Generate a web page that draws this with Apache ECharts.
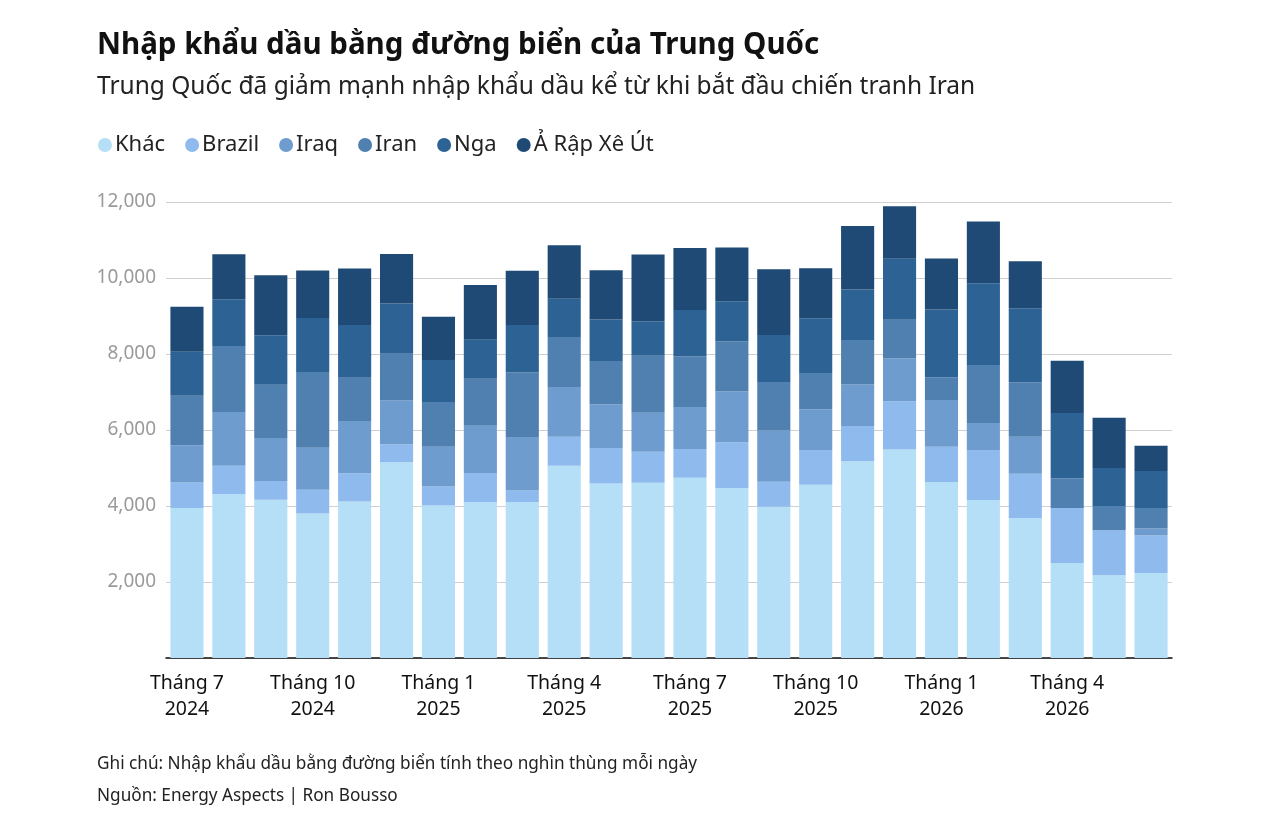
<!DOCTYPE html>
<html>
<head>
<meta charset="utf-8">
<script src="https://cdn.jsdelivr.net/npm/echarts@6/dist/echarts.min.js"></script>
<style>
  html, body { margin: 0; padding: 0; background: #fff; }
  #main { width: 1262px; height: 832px; }
</style>
</head>
<body>
<div id="main"></div>
<script>
// thang / nam
var months = ['Tháng 7\n2024', 'Tháng 8\n2024', 'Tháng 9\n2024', 'Tháng 10\n2024', 'Tháng 11\n2024', 'Tháng 12\n2024',
  'Tháng 1\n2025', 'Tháng 2\n2025', 'Tháng 3\n2025', 'Tháng 4\n2025', 'Tháng 5\n2025', 'Tháng 6\n2025',
  'Tháng 7\n2025', 'Tháng 8\n2025', 'Tháng 9\n2025', 'Tháng 10\n2025', 'Tháng 11\n2025', 'Tháng 12\n2025',
  'Tháng 1\n2026', 'Tháng 2\n2026', 'Tháng 3\n2026', 'Tháng 4\n2026', 'Tháng 5\n2026', 'Tháng 6\n2026'];

// nghin thung moi ngay
var khac   = [3950, 4316, 4166, 3800, 4120, 5150, 4010, 4105, 4105, 5060, 4595, 4615, 4745, 4475, 3980, 4560, 5175, 5490, 4630, 4160, 3685, 2500, 2175, 2235];
var brazil = [670, 745, 492, 630, 740, 475, 500, 765, 300, 765, 930, 815, 755, 1200, 660, 915, 930, 1265, 930, 1315, 1165, 1450, 1185, 990];
var iraq   = [980, 1413, 1131, 1105, 1375, 1150, 1050, 1245, 1410, 1305, 1150, 1025, 1105, 1340, 1350, 1070, 1090, 1125, 1230, 710, 975, 0, 0, 185];
var iran   = [1300, 1736, 1404, 1990, 1140, 1230, 1175, 1235, 1700, 1315, 1140, 1500, 1335, 1315, 1270, 955, 1175, 1020, 600, 1525, 1430, 780, 640, 535];
var nga    = [1160, 1229, 1298, 1420, 1385, 1325, 1105, 1025, 1245, 1010, 1090, 910, 1220, 1055, 1240, 1440, 1325, 1605, 1780, 2155, 1950, 1720, 1000, 975];
var saudi  = [1185, 1184, 1579, 1255, 1490, 1300, 1140, 1440, 1430, 1405, 1300, 1755, 1630, 1420, 1730, 1315, 1675, 1385, 1340, 1625, 1235, 1370, 1324, 665];

var yTicks = [0, 2000, 4000, 6000, 8000, 10000, 12000];

var seriesNames = ['Khác', 'Brazil', 'Iraq', 'Iran', 'Nga', 'Ả Rập Xê Út'];
var seriesData = [khac, brazil, iraq, iran, nga, saudi];
var colors = ['#b4dff7', '#8fbaee', '#6e9ccf', '#5080b0', '#2d6294', '#1f4a75'];

var myChart = echarts.init(document.getElementById('main'));

var series = [];
for (var i = 0; i < seriesNames.length; i++) {
  series.push({
    name: seriesNames[i],
    type: 'bar',
    stack: 'total',
    barCategoryGap: '21%',
    data: seriesData[i],
    itemStyle: { color: colors[i] }
  });
}

option = {
  color: colors,
  textStyle: { fontFamily: 'Noto Sans' },
  title: [{
    text: 'Nhập khẩu dầu bằng đường biển của Trung Quốc',
    left: 97,
    top: 31,
    padding: 0,
    textStyle: { fontSize: 29.5, fontWeight: 'bold', color: '#111', fontFamily: 'Noto Sans' }
  }, {
    text: 'Trung Quốc đã giảm mạnh nhập khẩu dầu kể từ khi bắt đầu chiến tranh Iran',
    left: 97,
    top: 75,
    padding: 0,
    textStyle: { fontSize: 24.5, fontWeight: 'normal', color: '#222', fontFamily: 'Noto Sans' }
  }, {
    text: 'Ghi chú: Nhập khẩu dầu bằng đường biển tính theo nghìn thùng mỗi ngày',
    left: 97,
    top: 756,
    padding: 0,
    textStyle: { fontSize: 17.2, fontWeight: 'normal', color: '#222', fontFamily: 'Noto Sans' }
  }, {
    text: 'Nguồn: Energy Aspects | Ron Bousso',
    left: 97,
    top: 788,
    padding: 0,
    textStyle: { fontSize: 17.2, fontWeight: 'normal', color: '#222', fontFamily: 'Noto Sans' }
  }],
  legend: {
    left: 93,
    top: 129,
    icon: 'circle',
    itemWidth: 14,
    itemHeight: 14,
    itemGap: 20,
    textStyle: { fontSize: 22, color: '#222', padding: [0, 0, 0, -2] },
    data: seriesNames
  },
  grid: {
    left: 166,
    right: 90,
    top: 202,
    bottom: 174
  },
  xAxis: {
    type: 'category',
    data: months,
    axisLine: { show: true, lineStyle: { color: '#111', width: 1.5 } },
    axisTick: { show: false },
    axisLabel: {
      interval: 2,
      color: '#111',
      fontSize: 19.5,
      lineHeight: 26,
      margin: 12
    }
  },
  yAxis: {
    type: 'value',
    min: yTicks[0],
    max: yTicks[yTicks.length - 1],
    interval: 2000,
    axisLine: { show: false },
    axisTick: { show: false },
    splitLine: { lineStyle: { color: '#d0d0d0' } },
    axisLabel: {
      color: '#9a9a9a',
      fontSize: 19,
      margin: 10,
      formatter: function (v) {
        if (v === 0) return '';
        return v.toLocaleString('en-US');
      }
    }
  },
  series: series
};

myChart.setOption(option);
</script>
</body>
</html>
